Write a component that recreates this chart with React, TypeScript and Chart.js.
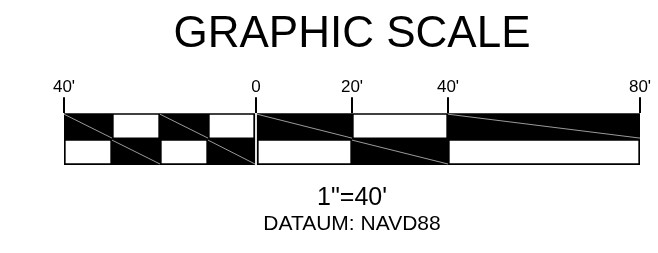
import React, { useEffect, useRef } from "react";
import { Chart, registerables } from "chart.js";

Chart.register(...registerables);

// Scale segments (feet) along the bar
const segmentStarts = [-40, -30, -20, -10, 0, 20, 40];
const segmentEnds = [-30, -20, -10, 0, 20, 40, 80];
// Whether the segment is filled (black) in the upper row; the lower row is the opposite
const upperFilled = [true, false, true, false, true, false, true];
const rows = ["upper", "lower"];

// Axis ticks
const tickValues = [-40, 0, 20, 40, 80];
const tickLabels = ["40'", "0", "20'", "40'", "80'"];

const titleText = "GRAPHIC SCALE";
const scaleText = "1\"=40'";
const datumText = "DATAUM: NAVD88";

const FONT = "'Liberation Sans', Arial, sans-serif";
const BLACK = "#000000";
const WHITE = "#ffffff";

export default function App() {
  const ref = useRef<HTMLCanvasElement | null>(null);

  useEffect(() => {
    if (!ref.current) return;

    const datasets = segmentStarts.map((s, i) => {
      const upper = upperFilled[i];
      return {
        label: `seg${i}`,
        data: [
          [s, segmentEnds[i]],
          [s, segmentEnds[i]],
        ],
        backgroundColor: [upper ? BLACK : WHITE, upper ? WHITE : BLACK],
        filled: [upper, !upper],
        borderColor: BLACK,
        borderWidth: 2,
        borderSkipped: false,
        grouped: false,
        barPercentage: 1,
        categoryPercentage: 1,
      } as any;
    });

    const hatchPlugin = {
      id: "hatch",
      afterDatasetsDraw(chart: any) {
        const ctx = chart.ctx;
        ctx.save();
        ctx.strokeStyle = "#9a9a9a";
        ctx.lineWidth = 1;
        chart.data.datasets.forEach((ds: any, i: number) => {
          const meta = chart.getDatasetMeta(i);
          meta.data.forEach((bar: any, j: number) => {
            if (!ds.filled[j]) return;
            const p = bar.getProps(["x", "y", "base", "height"], true);
            const left = Math.min(p.x, p.base);
            const right = Math.max(p.x, p.base);
            const top = p.y - p.height / 2;
            const bottom = p.y + p.height / 2;
            ctx.beginPath();
            ctx.moveTo(left, top + 1);
            ctx.lineTo(right, bottom - 1);
            ctx.stroke();
          });
        });
        ctx.restore();
      },
    };

    const captionPlugin = {
      id: "captions",
      afterDraw(chart: any) {
        const ctx = chart.ctx;
        const xs = chart.scales.x;
        const cx = (xs.getPixelForValue(segmentStarts[0]) + xs.getPixelForValue(segmentEnds[segmentEnds.length - 1])) / 2;
        const b = chart.chartArea.bottom;
        ctx.save();
        ctx.fillStyle = BLACK;
        ctx.textAlign = "center";
        ctx.textBaseline = "alphabetic";
        ctx.font = `25px ${FONT}`;
        ctx.fillText(scaleText, cx, b + 40);
        ctx.font = `21px ${FONT}`;
        ctx.fillText(datumText, cx, b + 65);
        ctx.restore();
      },
    };

    const chart = new Chart(ref.current, {
      type: "bar",
      data: { labels: rows, datasets },
      plugins: [hatchPlugin, captionPlugin],
      options: {
        indexAxis: "y",
        responsive: false,
        animation: false,
        layout: { padding: { left: 64, right: 18, top: 0, bottom: 88 } },
        plugins: {
          legend: { display: false },
          tooltip: { enabled: false },
          title: {
            display: true,
            text: titleText,
            color: BLACK,
            fullSize: false,
            font: { family: FONT, size: 44, weight: "normal" },
            padding: { top: 8, bottom: 16 },
          },
        },
        scales: {
          x: {
            type: "linear",
            position: "top",
            min: segmentStarts[0],
            max: segmentEnds[segmentEnds.length - 1],
            afterBuildTicks: (scale: any) => {
              scale.ticks = tickValues.map((v) => ({ value: v }));
            },
            ticks: {
              color: BLACK,
              padding: 0,
              maxRotation: 0,
              autoSkip: false,
              font: { family: FONT, size: 17 },
              callback: (v: any) => {
                const k = tickValues.indexOf(Number(v));
                return k >= 0 ? tickLabels[k] : "";
              },
            },
            grid: {
              drawOnChartArea: false,
              drawTicks: true,
              tickLength: 16,
              lineWidth: 2,
              color: BLACK,
            },
            border: { display: false },
          },
          y: {
            type: "category",
            display: false,
          },
        },
      } as any,
    });

    return () => chart.destroy();
  }, []);

  return (
    <div style={{ position: "fixed", left: 0, top: 0, width: 658, height: 253, background: "#fff" }}>
      <canvas ref={ref} width={658} height={253} />
    </div>
  );
}
